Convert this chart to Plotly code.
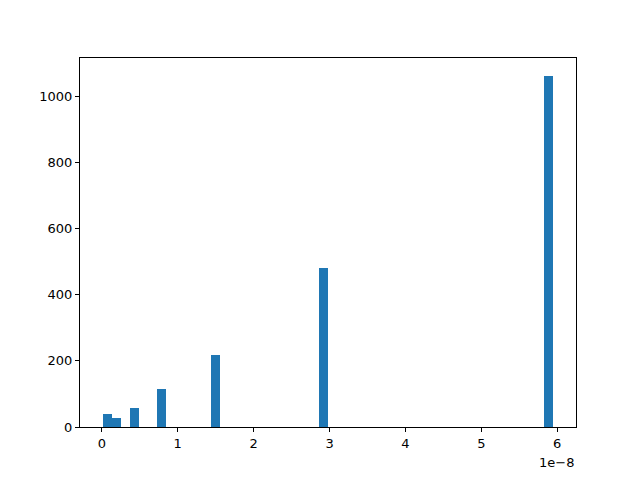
import plotly.graph_objects as go

# Histogram data (x in units of 1e-8)
bin_start = 0.009
bin_stop = 5.95
n_bins = 50
bin_indices = [0, 1, 3, 6, 12, 24, 49]
counts = [39, 27, 57, 115, 217, 481, 1063]

bin_width = (bin_stop - bin_start) / n_bins
centers = [bin_start + (i + 0.5) * bin_width for i in bin_indices]

fig = go.Figure()
fig.add_trace(go.Bar(
    x=centers, y=counts, width=[bin_width] * len(centers),
    marker=dict(color="#1f77b4", line=dict(width=0)),
))

span = bin_stop - bin_start
# page body has an 8px default margin; compensate so the plot area sits where it should
fig.update_layout(
    width=640, height=480,
    margin=dict(l=72, r=72, t=50, b=61),
    paper_bgcolor="white", plot_bgcolor="white",
    showlegend=False,
    font=dict(family="DejaVu Sans", size=13, color="black"),
    bargap=0,
)
fig.update_xaxes(
    range=[bin_start - 0.05 * span, bin_stop + 0.05 * span],
    tickvals=[0, 1, 2, 3, 4, 5, 6], ticktext=["0", "1", "2", "3", "4", "5", "6"],
    ticks="outside", ticklen=4, tickcolor="black",
    showline=True, linecolor="black", linewidth=1, mirror=True,
    showgrid=False, zeroline=False,
)
fig.update_yaxes(
    range=[0, 1063 * 1.05],
    tickvals=[0, 200, 400, 600, 800, 1000],
    ticks="outside", ticklen=4, tickcolor="black",
    showline=True, linecolor="black", linewidth=1, mirror=True,
    showgrid=False, zeroline=False,
)
fig.add_annotation(
    text="1e\u22128", xref="paper", yref="paper", x=1, y=0,
    xanchor="right", yanchor="top", yshift=-26, showarrow=False,
    font=dict(family="DejaVu Sans", size=13, color="black"),
)
fig.write_html("out.html")
